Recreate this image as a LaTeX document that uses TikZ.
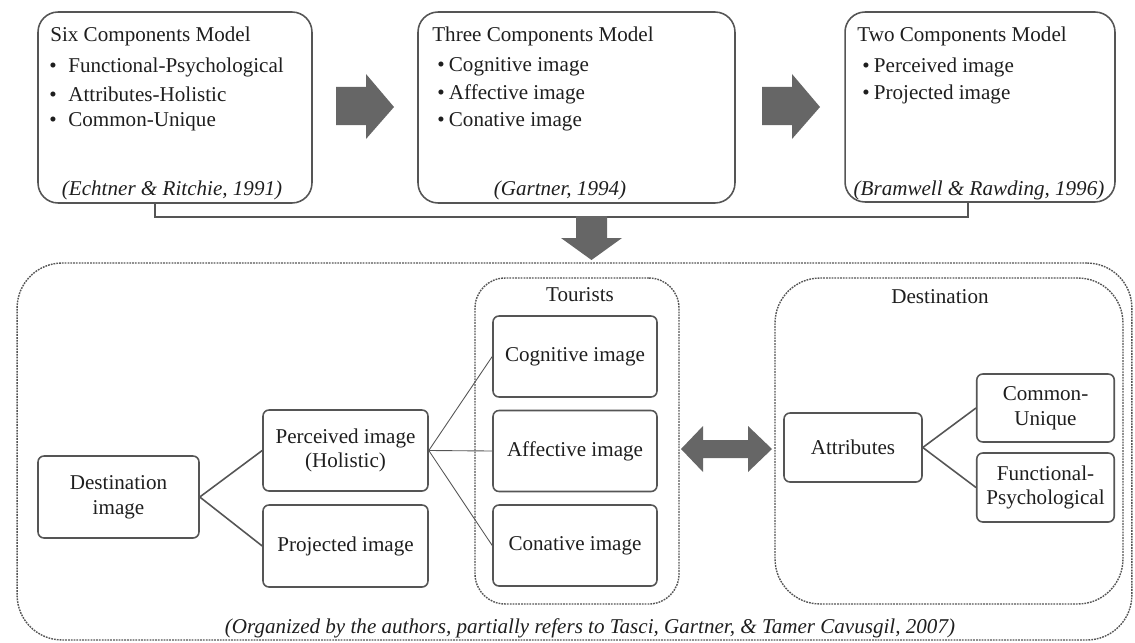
\documentclass[tikz,border=0pt]{standalone}
\usepackage{fontspec}
\setmainfont{Liberation Serif}
\usetikzlibrary{calc,positioning}
\definecolor{boxgray}{RGB}{85,85,85}
\definecolor{arrowgray}{RGB}{102,102,102}
\definecolor{txt}{RGB}{30,30,30}
\newcommand{\bul}[2][0.55em]{\makebox[#1][l]{\textbullet}#2}

\begin{document}
\begin{tikzpicture}[x=0.02cm,y=-0.02cm,
  font=\fontsize{12}{14}\selectfont, text=txt,
  modelbox/.style={draw=boxgray, line width=0.9pt, rounded corners=0.4cm, minimum height=3.82cm},
  item/.style={anchor=west, inner sep=0pt},
  cite/.style={font=\fontsize{12}{14}\selectfont\itshape, inner sep=0pt},
  groupbox/.style={draw=boxgray, line width=0.8pt, dash pattern=on 1pt off 0.6pt, minimum height=6.52cm},
  imgbox/.style={draw=boxgray, line width=0.9pt, rounded corners=0.12cm, align=center, minimum width=3.28cm, minimum height=1.62cm},
  attrbox/.style={imgbox, minimum width=2.75cm, minimum height=1.38cm},
  link/.style={draw=boxgray, line width=0.9pt},
  thinlink/.style={draw=boxgray, line width=0.5pt}
]
\useasboundingbox (0,0) rectangle (1135,642);

% models
\node[modelbox, minimum width=5.48cm] (six) at (175,107.5) {};
\node[modelbox, minimum width=6.34cm] (three) at (576.5,107.5) {};
\node[modelbox, minimum width=5.4cm, minimum height=3.8cm] (two) at (980,107) {};

\node[item] (six-t) at (50,36) {Six Components Model};
\node[item] (six-a) at (49,67) {\bul[0.9em]{Functional-Psychological}};
\node[item] (six-b) at (49,94) {\bul[0.9em]{Attributes-Holistic}};
\node[item] (six-c) at (49,122) {\bul[0.9em]{Common-Unique}};
\node[cite] (six-ref) at (172,190) {(Echtner \& Ritchie, 1991)};

\node[item] (three-t) at (432,36) {Three Components Model};
\node[item] (three-a) at (437,67) {\bul{Cognitive image}};
\node[item] (three-b) at (437,94) {\bul{Affective image}};
\node[item] (three-c) at (437,122) {\bul{Conative image}};
\node[cite] (three-ref) at (560,190) {(Gartner, 1994)};

\node[item] (two-t) at (857,36) {Two Components Model};
\node[item] (two-a) at (862,67) {\bul{Perceived image}};
\node[item] (two-b) at (862,94) {\bul{Projected image}};
\node[cite] (two-ref) at (979,190) {(Bramwell \& Rawding, 1996)};

\foreach \x in {336,762}
  \fill[arrowgray] (\x,87) -- (\x+30,87) -- (\x+30,74) -- (\x+58,107) -- (\x+30,139) -- (\x+30,125) -- (\x,125) -- cycle;

\draw[link] ([xshift=-0.4cm]six.south) -- ++(0,13) -| ([xshift=-0.24cm]two.south);
\fill[arrowgray] (576,216) -- (607,216) -- (607,238) -- (622,238) -- (591.5,260) -- (561,238) -- (576,238) -- cycle;

% framework
\node[groupbox, rounded corners=0.9cm, minimum width=22.3cm, minimum height=7.54cm] (outer) at (574.5,451.5) {};
\node[groupbox, rounded corners=0.6cm, minimum width=4.08cm] (tour) at (577,441) {};
\node[groupbox, rounded corners=0.9cm, minimum width=6.96cm] (dest) at (949,441) {};
\node[inner sep=0pt] (tour-l) at (580,295) {Tourists};
\node[inner sep=0pt] (dest-l) at (940,297) {Destination};

\node[imgbox, minimum width=3.22cm, minimum height=1.64cm] (destimg) at (118.5,497) {Destination\\image};
\node[imgbox, minimum width=3.3cm] (perc) at (345.5,450.5) {Perceived image\\(Holistic)};
\node[imgbox, minimum width=3.3cm, minimum height=1.64cm] (proj) at (345.5,546) {Projected image};

\node[imgbox] (cog) at (575,356.5) {Cognitive image};
\node[imgbox] (aff) at (575,451) {Affective image};
\node[imgbox] (con) at (575,545.5) {Conative image};

\node[attrbox, minimum width=2.76cm] (attr) at (853,447.5) {Attributes};
\node[attrbox, minimum height=1.36cm] (cu) at (1045.5,408) {Common-\\Unique};
\node[attrbox] (fp) at (1045.5,487.5) {Functional-\\Psychological};

\draw[link] (destimg.east) -- (perc.west);
\draw[link] (destimg.east) -- (proj.west);
\foreach \n in {cog,aff,con}
  \draw[thinlink] (perc.east) -- (\n.west);
\draw[link] (attr.east) -- (cu.west);
\draw[link] (attr.east) -- (fp.west);

\fill[arrowgray] (681,449) -- (703,426) -- (703,440) -- (748,440) -- (748,426) -- (772,449) -- (748,472) -- (748,458) -- (703,458) -- (703,472) -- cycle;

\node[cite] (note) at (590,628) {(Organized by the authors, partially refers to Tasci, Gartner, \& Tamer Cavusgil, 2007)};
\end{tikzpicture}
\end{document}
